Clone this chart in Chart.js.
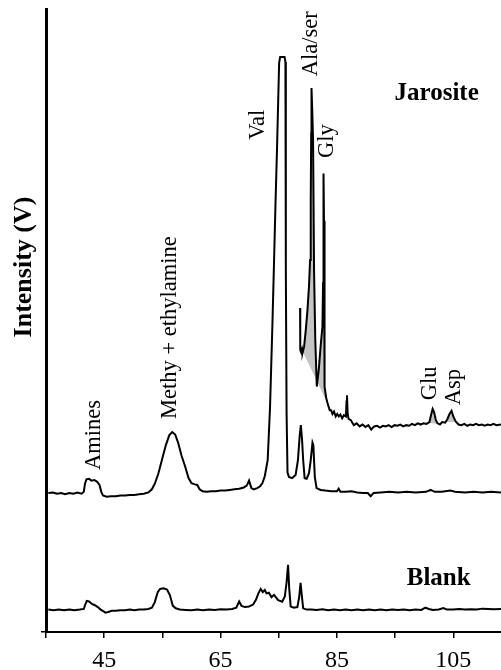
<!DOCTYPE html>
<html>
<head>
<meta charset="utf-8">
<script src="https://cdn.jsdelivr.net/npm/chart.js@4"></script>
<style>
  html, body { margin: 0; padding: 0; background: #fff; }
  #wrap { width: 501px; height: 670px; }
</style>
</head>
<body>
<div id="wrap"><canvas id="chrom"></canvas></div>
<script>
// trục x: thời gian lưu (phút)
const xTicks = [35, 45, 55, 65, 75, 85, 95, 105];
const xLabels = [45, 65, 85, 105];

// mẫu Jarosite - đường chính [x, y]
const jarositeMain = [
  [35.4, 22.3], [36.2, 22.4], [36.9, 22.2], [37.6, 22.3], [38.3, 22.1], [39.0, 22.3], [39.7, 22.2],
  [40.4, 22.4], [41.1, 22.2], [41.5, 22.5], [41.7, 23.8], [41.95, 24.5], [42.4, 24.6], [42.8, 24.3],
  [43.3, 24.4], [43.8, 24.1], [44.2, 23.6], [44.5, 22.5], [44.8, 21.9], [45.4, 21.7], [46.2, 21.8],
  [47.0, 21.8], [47.8, 21.9], [48.6, 21.9], [49.4, 22.0], [50.2, 22.0], [51.0, 22.1], [51.8, 22.2],
  [52.6, 22.4], [53.2, 22.9], [53.7, 23.8], [54.3, 25.4], [55.0, 27.9], [55.6, 30.0], [56.2, 31.6],
  [56.7, 32.1], [57.2, 31.7], [57.7, 30.4], [58.3, 28.3], [58.9, 26.6], [59.5, 24.7], [60.0, 23.9],
  [60.6, 23.7], [61.0, 23.6], [61.4, 22.9], [61.9, 22.6], [62.6, 22.5], [63.4, 22.6], [64.2, 22.6],
  [65.0, 22.7], [65.8, 22.7], [66.6, 22.8], [67.4, 22.9], [68.2, 23.0], [69.0, 23.2], [69.5, 23.5],
  [69.9, 24.3], [70.3, 23.1], [70.7, 22.9], [71.3, 23.1], [71.8, 23.4], [72.2, 23.9], [72.6, 25.0],
  [73.1, 27.6], [73.5, 36.0], [73.9, 48.9], [74.2, 59.7], [74.45, 69.0], [74.7, 77.4], [74.9, 85.0],
  [75.07, 91.4], [75.25, 92.3], [76.0, 92.3], [76.15, 91.5], [76.22, 58.1], [76.35, 35.0], [76.51, 25.6],
  [76.75, 24.9], [77.3, 24.7], [77.9, 25.2], [78.3, 27.6], [78.6, 31.5], [78.8, 33.2], [79.0, 31.0],
  [79.2, 27.6], [79.45, 24.7], [79.8, 24.6], [80.2, 25.5], [80.5, 27.6], [80.8, 30.4], [80.95, 30.0],
  [81.2, 24.9], [81.5, 23.1], [82.2, 22.8], [83.0, 22.7], [84.0, 22.6], [85.0, 22.6], [85.3, 23.0],
  [85.6, 22.5], [86.5, 22.5], [87.5, 22.6], [88.5, 22.4], [89.5, 22.3], [90.3, 22.3], [90.8, 21.8],
  [91.3, 22.3], [92.5, 22.4], [94.0, 22.5], [95.5, 22.4], [97.0, 22.5], [98.5, 22.4], [100.3, 22.5],
  [101.1, 22.8], [101.8, 22.5], [103.0, 22.5], [104.5, 22.7], [105.3, 22.5], [107.0, 22.4],
  [108.5, 22.5], [110.0, 22.4], [111.5, 22.5], [113.2, 22.4]
];

// mẫu Jarosite - đoạn phóng đại sau Val
const jarositeDetail = [
  [78.67, 52.0], [78.7, 45.3], [78.85, 44.9], [79.0, 45.4], [79.1, 44.8], [79.36, 45.8], [79.65, 48.5],
  [79.94, 51.7], [80.2, 55.5], [80.39, 59.7], [80.5, 69.3], [80.58, 80.0], [80.63, 87.3], [80.75, 84.0],
  [80.9, 79.0], [81.07, 58.1], [81.28, 46.9], [81.54, 39.4], [81.88, 42.1], [82.22, 46.1], [82.51, 49.0],
  [82.62, 56.0], [82.68, 65.0], [82.71, 73.6], [82.78, 66.0], [82.84, 55.0], [82.91, 39.4], [83.15, 37.6],
  [83.37, 36.8], [83.76, 35.6], [84.0, 35.6], [84.23, 35.0], [84.5, 35.4], [84.79, 34.6], [85.05, 35.0],
  [85.31, 34.6], [85.6, 34.9], [85.9, 34.3], [86.2, 34.8], [86.55, 34.6], [86.65, 37.0], [86.73, 38.0],
  [86.85, 35.0], [87.0, 34.2], [87.4, 34.0], [87.9, 33.2], [88.4, 33.5], [88.9, 33.0], [89.4, 33.3],
  [89.9, 32.9], [90.4, 33.2], [90.9, 32.5], [91.4, 33.0], [91.9, 33.1], [92.4, 32.8], [92.9, 33.1],
  [93.4, 33.0], [93.9, 33.2], [94.4, 32.9], [94.9, 33.2], [95.4, 33.1], [95.9, 33.3], [96.4, 33.0],
  [96.9, 33.2], [97.4, 33.1], [97.9, 33.4], [98.4, 33.2], [98.9, 33.5], [99.4, 33.3], [99.9, 33.5],
  [100.4, 33.4], [100.9, 33.7], [101.2, 34.9], [101.45, 35.8], [101.7, 35.3], [102.0, 34.0], [102.3, 33.5],
  [102.7, 33.3], [103.1, 33.7], [103.6, 33.6], [104.0, 34.2], [104.35, 35.0], [104.7, 35.5], [105.0, 34.6],
  [105.4, 33.8], [105.9, 33.3], [106.4, 33.2], [106.9, 33.4], [107.4, 33.1], [107.9, 33.3], [108.4, 33.2],
  [108.9, 33.4], [109.4, 33.2], [109.9, 33.3], [110.4, 33.1], [110.9, 33.3], [111.4, 33.2], [111.9, 33.4],
  [112.4, 33.2], [113.2, 33.3]
];

// mẫu trắng (Blank)
const blank = [
  [35.4, 3.6], [36.3, 3.5], [37.2, 3.6], [38.1, 3.5], [39.0, 3.6], [39.9, 3.5], [40.8, 3.6], [41.5, 3.7],
  [41.7, 4.3], [42.0, 5.0], [42.4, 4.9], [42.9, 4.5], [43.4, 4.3], [43.9, 4.0], [44.4, 3.6], [44.9, 3.3],
  [45.2, 3.1], [45.7, 3.2], [46.3, 3.4], [47.0, 3.4], [47.8, 3.5], [48.6, 3.5], [49.4, 3.6], [50.2, 3.5],
  [51.0, 3.6], [51.8, 3.6], [52.6, 3.7], [53.2, 3.9], [53.7, 4.8], [54.2, 6.4], [54.6, 6.9], [55.2, 7.0],
  [55.8, 6.8], [56.3, 5.9], [56.8, 4.2], [57.3, 3.8], [58.0, 3.6], [59.0, 3.55], [60.0, 3.5], [61.0, 3.6],
  [62.0, 3.5], [63.0, 3.6], [64.0, 3.55], [65.0, 3.65], [66.0, 3.6], [67.0, 3.7], [67.7, 3.9], [68.2, 4.9],
  [68.6, 4.2], [69.2, 4.0], [69.9, 4.1], [70.6, 4.4], [71.1, 5.2], [71.5, 6.2], [71.9, 6.9], [72.25, 6.4],
  [72.6, 6.75], [72.9, 6.2], [73.3, 6.3], [73.75, 5.6], [74.2, 5.95], [74.9, 5.1], [75.6, 4.85], [76.05, 5.7],
  [76.35, 8.0], [76.6, 10.8], [76.8, 7.0], [77.05, 4.1], [77.6, 3.9], [78.2, 4.0], [78.5, 5.5], [78.75, 7.9],
  [78.95, 6.0], [79.2, 3.8], [79.8, 3.6], [80.6, 3.6], [81.5, 3.55], [82.5, 3.65], [83.5, 3.5], [84.5, 3.6],
  [85.5, 3.5], [86.5, 3.6], [87.5, 3.5], [88.5, 3.6], [89.5, 3.5], [90.5, 3.6], [91.5, 3.5], [92.5, 3.6],
  [93.5, 3.5], [94.5, 3.6], [95.5, 3.55], [96.5, 3.6], [97.5, 3.5], [98.5, 3.6], [99.5, 3.55], [100.2, 3.9],
  [100.8, 3.7], [101.5, 3.55], [102.5, 3.6], [103.3, 3.85], [103.9, 3.6], [105.0, 3.6], [106.0, 3.7],
  [107.0, 3.6], [108.0, 3.65], [109.0, 3.6], [110.0, 3.75], [111.0, 3.7], [112.0, 3.65], [113.2, 3.7]
];

// đường nền để tô diện tích pic
const alaGlyBase = [[79.0, 45.2], [83.6, 36.2]];
const gluBase = [[100.7, 33.5], [102.3, 33.4]];
const aspBase = [[103.3, 33.7], [105.6, 33.7]];

const toXY = (arr) => arr.map((p) => ({ x: p[0], y: p[1] }));
const between = (arr, a, b) => toXY(arr.filter((p) => p[0] >= a && p[0] <= b));

const serif = "'Liberation Serif', 'Times New Roman', serif";

// nhãn pic (xoay dọc) và tên mẫu
const peakNotes = [
  { text: "Amines", x: 44.3, y: 26.0 },
  { text: "Methy + ethylamine", x: 57.4, y: 34.2 },
  { text: "Val", x: 72.4, y: 79.0 },
  { text: "Ala/ser", x: 81.5, y: 89.2 },
  { text: "Gly", x: 84.3, y: 76.1 },
  { text: "Glu", x: 102.0, y: 37.2 },
  { text: "Asp", x: 106.1, y: 36.4 },
];
const sampleNotes = [
  { text: "Jarosite", x: 94.9, y: 85.4 },
  { text: "Blank", x: 97.0, y: 7.5 },
];

const notePlugin = {
  id: "notes",
  afterDatasetsDraw(chart) {
    const { ctx, scales } = chart;
    ctx.save();
    ctx.fillStyle = "#000";
    ctx.textAlign = "left";
    ctx.textBaseline = "alphabetic";
    ctx.font = "22.5px " + serif;
    peakNotes.forEach((n) => {
      ctx.save();
      ctx.translate(scales.x.getPixelForValue(n.x), scales.y.getPixelForValue(n.y));
      ctx.rotate(-Math.PI / 2);
      ctx.fillText(n.text, 0, 0);
      ctx.restore();
    });
    ctx.font = "bold 25px " + serif;
    sampleNotes.forEach((n) => {
      ctx.fillText(n.text, scales.x.getPixelForValue(n.x), scales.y.getPixelForValue(n.y));
    });
    // tiêu đề trục y
    ctx.font = "bold 26px " + serif;
    ctx.textAlign = "center";
    ctx.textBaseline = "middle";
    ctx.translate(24, 267);
    ctx.rotate(-Math.PI / 2);
    ctx.fillText("Intensity (V)", 0, 0);
    ctx.restore();
  },
};

const lineStyle = { borderColor: "#000", borderWidth: 2, pointRadius: 0, showLine: true, tension: 0, fill: false };
const shadeStyle = { borderWidth: 0, pointRadius: 0, showLine: true, tension: 0 };
const grey = "#c4c4c4";
const none = "rgba(0,0,0,0)";

new Chart(document.getElementById("chrom"), {
  type: "scatter",
  data: {
    datasets: [
      { label: "Jarosite", data: toXY(jarositeMain), ...lineStyle },
      { label: "Jarosite detail", data: toXY(jarositeDetail), ...lineStyle },
      { label: "Blank", data: toXY(blank), ...lineStyle },
      { data: between(jarositeDetail, 79.0, 83.6), ...shadeStyle, fill: { target: 6, above: grey, below: none } },
      { data: between(jarositeDetail, 100.7, 102.3), ...shadeStyle, fill: { target: 7, above: grey, below: none } },
      { data: between(jarositeDetail, 103.3, 105.6), ...shadeStyle, fill: { target: 8, above: grey, below: none } },
      { data: toXY(alaGlyBase), ...shadeStyle, fill: false },
      { data: toXY(gluBase), ...shadeStyle, fill: false },
      { data: toXY(aspBase), ...shadeStyle, fill: false },
    ],
  },
  options: {
    responsive: true,
    maintainAspectRatio: false,
    animation: false,
    layout: { padding: { top: 9, right: 0, left: 0, bottom: 0 } },
    plugins: { legend: { display: false }, tooltip: { enabled: false } },
    scales: {
      x: {
        type: "linear",
        min: 35,
        max: 113.2,
        afterBuildTicks: (s) => { s.ticks = xTicks.map((v) => ({ value: v })); },
        afterFit: (s) => { s.height = 38; },
        ticks: {
          autoSkip: false,
          maxRotation: 0,
          padding: 8,
          color: "#000",
          font: { family: serif, size: 24 },
          callback: (v) => (xLabels.includes(v) ? String(v) : ""),
        },
        grid: { drawOnChartArea: false, tickLength: 6, color: "#000", lineWidth: 1.5 },
        border: { color: "#000", width: 2 },
      },
      y: {
        min: 0,
        max: 100,
        afterBuildTicks: (s) => { s.ticks = [{ value: 0 }]; },
        afterFit: (s) => { s.width = 46; },
        ticks: { display: false },
        grid: { drawOnChartArea: false, tickLength: 5, color: "#000", lineWidth: 1.5 },
        border: { color: "#000", width: 3 },
      },
    },
  },
  plugins: [notePlugin],
});
</script>
</body>
</html>
